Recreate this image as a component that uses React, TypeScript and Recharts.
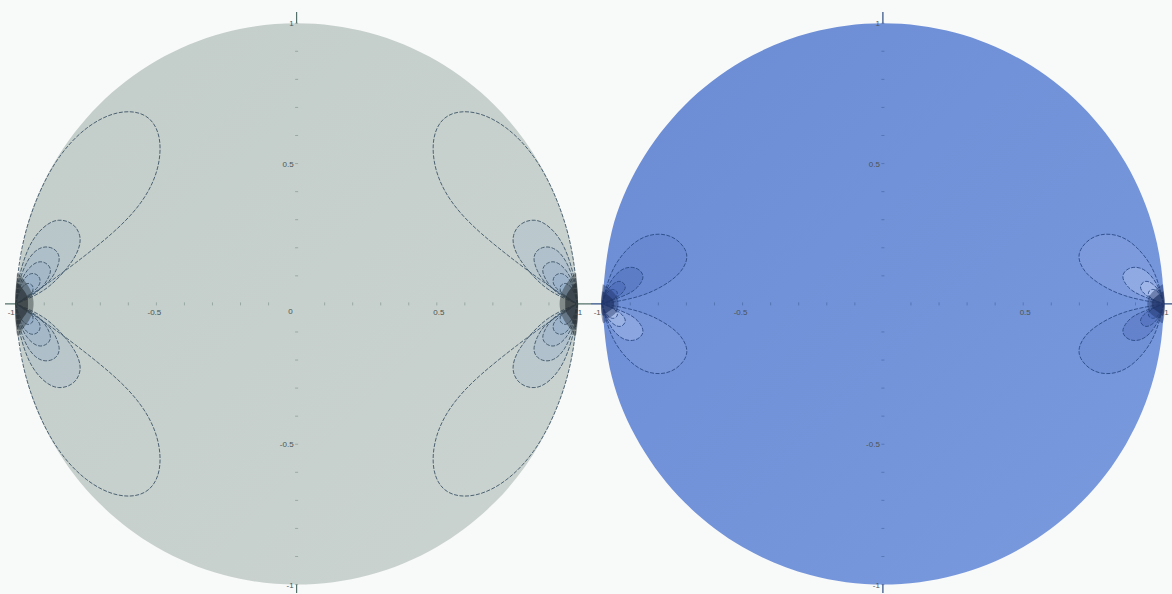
import { ScatterChart, Scatter, XAxis, YAxis, ReferenceLine, ReferenceDot } from 'recharts'

type Pt = [number, number]

// unit circle outline (the disk)
const DISK: Pt[] = [
  [-1, 0], [-0.966, 0.259], [-0.866, 0.5], [-0.707, 0.707], [-0.5, 0.866], [-0.259, 0.966],
  [0, 1], [0.259, 0.966], [0.5, 0.866], [0.707, 0.707], [0.866, 0.5], [0.966, 0.259],
  [1, 0], [0.966, -0.259], [0.866, -0.5], [0.707, -0.707], [0.5, -0.866], [0.259, -0.966],
  [0, -1], [-0.259, -0.966], [-0.5, -0.866], [-0.707, -0.707], [-0.866, -0.5], [-0.966, -0.259],
  [-1, 0],
]

const MINOR_TICKS = [
  -1, -0.9, -0.8, -0.7, -0.6, -0.5, -0.4, -0.3, -0.2, -0.1,
  0.1, 0.2, 0.3, 0.4, 0.5, 0.6, 0.7, 0.8, 0.9, 1,
]
const X_LABEL_VALUES = [-1, -0.5, 0.5, 1]
const X_LABELS = ['-1', '-0.5', '0.5', '1']
const Y_LABEL_VALUES = [1, 0.5, -0.5, -1]
const Y_LABELS = ['1', '0.5', '-0.5', '-1']

// left plot: contour loops of the upper family at z = -1 (other quadrants are mirrored)
const GREY_LOOP_1: Pt[] = [
  [-1, 0], [-0.992, 0.12], [-0.965, 0.26], [-0.915, 0.4], [-0.845, 0.525], [-0.75, 0.625],
  [-0.64, 0.68], [-0.54, 0.67], [-0.49, 0.59], [-0.5, 0.47], [-0.56, 0.355], [-0.66, 0.25],
  [-0.79, 0.145], [-0.9, 0.065], [-1, 0],
]
const GREY_LOOP_2: Pt[] = [
  [-1, 0], [-0.99, 0.09], [-0.955, 0.2], [-0.905, 0.27], [-0.85, 0.298], [-0.795, 0.28],
  [-0.772, 0.228], [-0.79, 0.17], [-0.83, 0.115], [-0.9, 0.05], [-1, 0],
]
const GREY_LOOP_3: Pt[] = [
  [-1, 0], [-0.988, 0.08], [-0.955, 0.16], [-0.91, 0.2], [-0.867, 0.196], [-0.847, 0.165],
  [-0.858, 0.12], [-0.9, 0.065], [-1, 0],
]
const GREY_LOOP_4: Pt[] = [
  [-1, 0], [-0.988, 0.065], [-0.96, 0.12], [-0.925, 0.148], [-0.895, 0.145], [-0.878, 0.12],
  [-0.893, 0.08], [-0.93, 0.04], [-1, 0],
]
const GREY_LOOP_5: Pt[] = [
  [-1, 0], [-0.99, 0.05], [-0.97, 0.09], [-0.945, 0.108], [-0.922, 0.1], [-0.915, 0.078],
  [-0.935, 0.048], [-1, 0],
]
const GREY_LOOP_6: Pt[] = [
  [-1, 0], [-0.992, 0.035], [-0.976, 0.062], [-0.958, 0.073], [-0.942, 0.064], [-0.942, 0.045],
  [-0.96, 0.025], [-1, 0],
]
// dark smudge where the lines pile up at z = ±1
const GREY_HALO: Pt[] = [
  [-0.997, 0.11], [-0.98, 0.095], [-0.955, 0.06], [-0.94, 0.02], [-0.94, -0.02],
  [-0.955, -0.06], [-0.98, -0.095], [-0.997, -0.11], [-1.004, 0], [-0.997, 0.11],
]
const GREY_CORE: Pt[] = [
  [-0.998, 0.08], [-0.982, 0.06], [-0.962, 0.03], [-0.958, 0], [-0.962, -0.03],
  [-0.982, -0.06], [-0.998, -0.08], [-1.004, 0], [-0.998, 0.08],
]

// right plot: upper family at z = -1
const BLUE_LOOP_1: Pt[] = [
  [-1, 0], [-0.985, 0.06], [-0.955, 0.135], [-0.905, 0.2], [-0.85, 0.238], [-0.79, 0.248],
  [-0.735, 0.228], [-0.7, 0.18], [-0.712, 0.128], [-0.76, 0.08], [-0.86, 0.03], [-1, 0],
]
const BLUE_LOOP_2: Pt[] = [
  [-1, 0], [-0.985, 0.05], [-0.955, 0.1], [-0.915, 0.128], [-0.875, 0.125], [-0.855, 0.098],
  [-0.87, 0.065], [-0.91, 0.035], [-1, 0],
]
const BLUE_LOOP_3: Pt[] = [
  [-1, 0], [-0.987, 0.04], [-0.962, 0.07], [-0.935, 0.08], [-0.918, 0.062], [-0.93, 0.038],
  [-0.96, 0.017], [-1, 0],
]
const BLUE_LOOP_4: Pt[] = [
  [-1, 0], [-0.99, 0.028], [-0.973, 0.048], [-0.955, 0.05], [-0.946, 0.036], [-0.962, 0.016], [-1, 0],
]
const BLUE_HALO: Pt[] = [
  [-0.998, 0.07], [-0.98, 0.058], [-0.952, 0.032], [-0.942, 0], [-0.952, -0.032],
  [-0.98, -0.055], [-0.998, -0.065], [-1.004, 0], [-0.998, 0.07],
]
const BLUE_CORE: Pt[] = [
  [-0.999, 0.045], [-0.985, 0.035], [-0.962, 0.015], [-0.958, 0], [-0.962, -0.015],
  [-0.985, -0.033], [-0.999, -0.04], [-1.004, 0], [-0.999, 0.045],
]

const GREY_LOOPS = [GREY_LOOP_1, GREY_LOOP_2, GREY_LOOP_3, GREY_LOOP_4, GREY_LOOP_5, GREY_LOOP_6]
const BLUE_LOOPS = [BLUE_LOOP_1, BLUE_LOOP_2, BLUE_LOOP_3, BLUE_LOOP_4]

// mirror signs: upper -1, lower -1, upper +1, lower +1
const QUADS: Pt[] = [[1, 1], [1, -1], [-1, 1], [-1, -1]]

const toData = (list: Pt[], sx = 1, sy = 1) => list.map(([x, y]) => ({ x: x * sx, y: y * sy }))
const noDot = () => <g />
const FONT = '"Liberation Sans", Arial, sans-serif'
const LABEL = '#4d5452'

interface PlotProps {
  left: number
  width: number
  margin: { top: number; right: number; bottom: number; left: number }
  xDomain: [number, number]
  yDomain: [number, number]
  gradId: string
  gradFrom: string
  gradTo: string
  axisColor: string
  lineColor: string
  loops: Pt[][]
  loopFill: (q: number, i: number) => string
  halo: Pt[]
  core: Pt[]
  blobColor: string
  showZero: boolean
}

function DiskPlot(p: PlotProps) {
  return (
    <div style={{ position: 'absolute', left: p.left, top: 0 }}>
      <ScatterChart width={p.width} height={594} margin={p.margin}>
        <defs>
          <linearGradient id={p.gradId} x1="0" y1="0" x2="1" y2="1">
            <stop offset="0%" stopColor={p.gradFrom} />
            <stop offset="100%" stopColor={p.gradTo} />
          </linearGradient>
        </defs>
        <XAxis type="number" dataKey="x" domain={p.xDomain} allowDataOverflow hide />
        <YAxis type="number" dataKey="y" domain={p.yDomain} allowDataOverflow hide />
        <Scatter
          data={toData(DISK)}
          line={{ fill: `url(#${p.gradId})`, stroke: 'none' }}
          lineJointType="natural"
          shape={noDot}
          isAnimationActive={false}
        />
        {QUADS.flatMap(([sx, sy], q) =>
          p.loops.map((loop, i) => (
            <Scatter
              key={`l${q}-${i}`}
              data={toData(loop, sx, sy)}
              line={{ fill: p.loopFill(q, i), stroke: p.lineColor, strokeWidth: 0.9, strokeDasharray: '4 1.5' }}
              lineJointType="natural"
              shape={noDot}
              isAnimationActive={false}
            />
          )),
        )}
        {[1, -1].flatMap(sx => [
          <Scatter
            key={`h${sx}`}
            data={toData(p.halo, sx, 1)}
            line={{ fill: p.blobColor, stroke: 'none', fillOpacity: 0.45 }}
            lineJointType="natural"
            shape={noDot}
            isAnimationActive={false}
          />,
          <Scatter
            key={`c${sx}`}
            data={toData(p.core, sx, 1)}
            line={{ fill: p.blobColor, stroke: 'none', fillOpacity: 0.7 }}
            lineJointType="natural"
            shape={noDot}
            isAnimationActive={false}
          />,
        ])}
        <ReferenceLine x={0} stroke={p.axisColor} strokeWidth={1.2} />
        <ReferenceLine y={0} stroke={p.axisColor} strokeWidth={1.2} />
        {MINOR_TICKS.map(v => (
          <ReferenceDot key={`tx${v}`} x={v} y={0} r={0}
            shape={(s: any) => <line x1={s.cx} x2={s.cx} y1={s.cy - 1.5} y2={s.cy + 1.5} stroke={p.axisColor} strokeOpacity={0.5} strokeWidth={0.8} />} />
        ))}
        {MINOR_TICKS.map(v => (
          <ReferenceDot key={`ty${v}`} x={0} y={v} r={0}
            shape={(s: any) => <line x1={s.cx - 1.5} x2={s.cx + 1.5} y1={s.cy} y2={s.cy} stroke={p.axisColor} strokeOpacity={0.5} strokeWidth={0.8} />} />
        ))}
        {X_LABEL_VALUES.map((v, i) => (
          <ReferenceDot key={`lx${v}`} x={v} y={0} r={0}
            shape={(s: any) => (
              <text x={s.cx + (v === -1 ? -5 : v < 0 ? -2 : v === 1 ? 3 : 2)} y={s.cy + 11} textAnchor="middle"
                fontSize={8} fontFamily={FONT} fill={LABEL}>{X_LABELS[i]}</text>
            )} />
        ))}
        {Y_LABEL_VALUES.map((v, i) => (
          <ReferenceDot key={`ly${v}`} x={0} y={v} r={0}
            shape={(s: any) => (
              <text x={s.cx - 3} y={s.cy + 3} textAnchor="end"
                fontSize={8} fontFamily={FONT} fill={LABEL}>{Y_LABELS[i]}</text>
            )} />
        ))}
        {p.showZero && (
          <ReferenceDot x={0} y={0} r={0}
            shape={(s: any) => (
              <text x={s.cx - 4} y={s.cy + 10} textAnchor="end"
                fontSize={8} fontFamily={FONT} fill={LABEL}>0</text>
            )} />
        )}
      </ScatterChart>
    </div>
  )
}

export default function App() {
  return (
    <div style={{ position: 'absolute', left: 0, top: 0, width: 1172, height: 594, background: '#f8f9f9', overflow: 'hidden' }}>
      <DiskPlot
        left={0}
        width={600}
        margin={{ top: 12, right: 9, bottom: 1, left: 5 }}
        xDomain={[-1.04, 1.05]}
        yDomain={[-1.03, 1.04]}
        gradId="greyDisk"
        gradFrom="#c3cdc9"
        gradTo="#cad3d0"
        axisColor="#55706a"
        lineColor="#3e5566"
        loops={GREY_LOOPS}
        loopFill={(q, i) => (i === 0 ? 'none' : 'rgba(95,140,195,0.12)')}
        halo={GREY_HALO}
        core={GREY_CORE}
        blobColor="#2b3236"
        showZero
      />
      <DiskPlot
        left={586}
        width={586}
        margin={{ top: 12, right: 0, bottom: 1, left: 5 }}
        xDomain={[-1.04, 1.03]}
        yDomain={[-1.03, 1.04]}
        gradId="blueDisk"
        gradFrom="#6b8cd4"
        gradTo="#7a9ade"
        axisColor="#2d4c80"
        lineColor="#2a4a86"
        loops={BLUE_LOOPS}
        loopFill={(q, i) => {
          const dark = q === 0 || q === 3
          if (i === 0) return dark ? 'rgba(25,55,140,0.06)' : 'rgba(240,245,255,0.06)'
          return dark ? 'rgba(25,55,140,0.15)' : 'rgba(235,240,255,0.18)'
        }}
        halo={BLUE_HALO}
        core={BLUE_CORE}
        blobColor="#1f3366"
        showZero={false}
      />
    </div>
  )
}
